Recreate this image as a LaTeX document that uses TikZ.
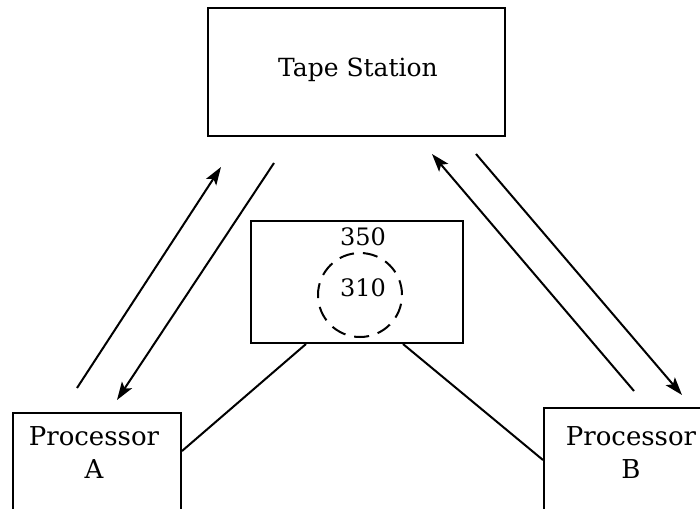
\documentclass[tikz,border=0pt]{standalone}
\usepackage{fontspec}
\setmainfont{DejaVu Serif}
\usetikzlibrary{arrows.meta}
\begin{document}
\begin{tikzpicture}[x=1pt,y=-1pt,
  box/.style={draw, line width=2pt, inner sep=0pt},
  lbl/.style={font=\fontsize{26}{33}\selectfont, inner sep=0pt, align=center},
  arr/.style={line width=2pt, -{Stealth[length=18pt,width=12pt,inset=4pt]}},
  link/.style={line width=2pt}]
\clip (0,0) rectangle (700,508);
% Tape station
\node[box, minimum width=297pt, minimum height=128pt] (tape) at (356.5,72) {};
\node[lbl, font=\fontsize{25}{30}\selectfont] (tapet) at (358,70) {Tape Station};
% middle box
\node[box, minimum width=212pt, minimum height=122pt] (mid) at (357,282) {};
\node[lbl, font=\fontsize{24}{30}\selectfont] (n350) at (363,237) {350};
\node[draw, circle, line width=2pt, dash pattern=on 15pt off 9pt, minimum size=84pt, inner sep=0pt] (c310) at (360,295) {};
\node[lbl, font=\fontsize{24}{30}\selectfont] (n310) at (363,288) {310};
% processors
\node[box, minimum width=168pt, minimum height=130pt, anchor=north west] (pa) at (12,412) {};
\node[lbl] (pat) at (94,453) {Processor\\A};
\node[box, minimum width=176pt, minimum height=130pt, anchor=north west] (pb) at (543,407) {};
\node[lbl] (pbt) at (631,453) {Processor\\B};
% links
\draw[link] ([xshift=56pt]mid.south west) -- ([yshift=-39pt]pa.north east);
\draw[link] ([xshift=-61pt]mid.south east) -- ([yshift=-53pt]pb.north west);
% arrows
\coordinate (a1s) at (77,388);
\coordinate (a1e) at (221,167);
\coordinate (a2s) at (274,163);
\coordinate (a2e) at (117,400);
\coordinate (a3s) at (634,391);
\coordinate (a3e) at (432,154);
\coordinate (a4s) at (476,154);
\coordinate (a4e) at (682,395);
\draw[arr] (a1s) -- (a1e);
\draw[arr] (a2s) -- (a2e);
\draw[arr] (a3s) -- (a3e);
\draw[arr] (a4s) -- (a4e);
\end{tikzpicture}
\end{document}
